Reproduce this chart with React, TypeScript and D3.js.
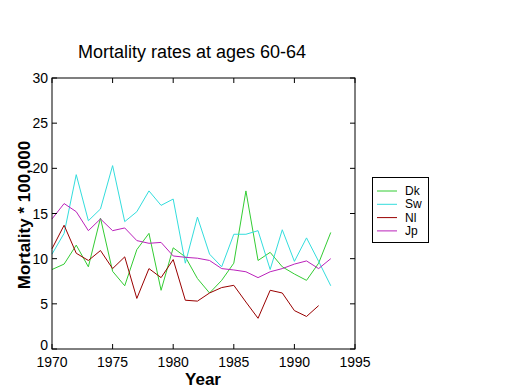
import React from "react";
import * as d3 from "d3";

const years = d3.range(1970, 1994);
const dk = [8.8, 9.4, 11.5, 9.1, 14.5, 8.6, 7.0, 11.0, 12.8, 6.5, 11.2, 10.2, 7.8, 6.2, 7.6, 9.5, 17.5, 9.8, 10.7, 9.1, 8.3, 7.6, 9.5, 12.9];
const sw = [10.5, 12.8, 19.3, 14.2, 15.5, 20.3, 14.1, 15.2, 17.5, 15.9, 16.6, 9.5, 14.6, 10.5, 9.1, 12.7, 12.7, 13.1, 8.8, 13.2, 9.7, 12.3, 9.7, 7.0];
const nl = [11.1, 13.7, 10.6, 9.8, 10.9, 8.9, 10.2, 5.6, 8.9, 7.9, 9.9, 5.4, 5.3, 6.2, 6.8, 7.05, 5.2, 3.4, 6.5, 6.2, 4.25, 3.6, 4.8];
const jp = [14.4, 16.1, 15.2, 13.1, 14.4, 13.1, 13.4, 12.0, 11.7, 11.8, 10.3, 10.15, 10.05, 9.8, 8.9, 8.75, 8.55, 7.9, 8.55, 8.9, 9.4, 9.75, 8.9, 10.0];
const seriesNames = ["Dk", "Sw", "Nl", "Jp"];
const seriesData = [dk, sw, nl, jp];
const colors = ["#33cc33", "#33dddd", "#990000", "#bb22bb"];
const xTicks = [1970, 1975, 1980, 1985, 1990, 1995];
const yTicks = [0, 5, 10, 15, 20, 25, 30];

export default function App() {
  const W = 520, H = 390;
  const L = 52, R = 355, T = 78, B = 349;
  const x = d3.scaleLinear().domain([1970, 1995]).range([L, R]);
  const y = d3.scaleLinear().domain([0, 30]).range([B, T]);
  const line = d3.line<number>().x((_, i) => x(years[i])).y((d) => y(d));
  const font = "'Liberation Sans', Arial, sans-serif";
  const tl = 5;
  return (
    <svg width={W} height={H} style={{ position: "absolute", left: 0, top: 0, background: "#fff" }} fontFamily={font}>
      <rect x={0} y={0} width={W} height={H} fill="#fff" />
      {seriesData.map((s, k) => (
        <path key={k} d={line(s) || ""} fill="none" stroke={colors[k]} strokeWidth={1} />
      ))}
      <rect x={L} y={T} width={R - L} height={B - T} fill="none" stroke="#000" strokeWidth={1} />
      {xTicks.map((t) => (
        <g key={t}>
          <line x1={x(t)} x2={x(t)} y1={B} y2={B - tl} stroke="#000" />
          <line x1={x(t)} x2={x(t)} y1={T} y2={T + tl} stroke="#000" />
          <text x={x(t)} y={B + 18} fontSize={14} textAnchor="middle">{t}</text>
        </g>
      ))}
      {yTicks.map((t) => (
        <g key={t}>
          <line x1={L} x2={L + tl} y1={y(t)} y2={y(t)} stroke="#000" />
          <line x1={R} x2={R - tl} y1={y(t)} y2={y(t)} stroke="#000" />
          <text x={L - 4} y={t === 0 ? y(t) + 1 : y(t) + 5} fontSize={14} textAnchor="end">{t}</text>
        </g>
      ))}
      <text x={192} y={58} fontSize={18} textAnchor="middle">Mortality rates at ages 60-64</text>
      <text x={203} y={385} fontSize={17} fontWeight="bold" textAnchor="middle">Year</text>
      <text transform={`translate(30,215) rotate(-90)`} fontSize={17} fontWeight="bold" textAnchor="middle">Mortality * 100,000</text>
      <rect x={372.5} y={177.5} width={56} height={65} fill="#fff" stroke="#000" />
      {seriesNames.map((n, k) => (
        <g key={n}>
          <line x1={377} x2={397} y1={191 + k * 13.3} y2={191 + k * 13.3} stroke={colors[k]} />
          <text x={405} y={191 + k * 13.3 + 4} fontSize={12}>{n}</text>
        </g>
      ))}
    </svg>
  );
}
